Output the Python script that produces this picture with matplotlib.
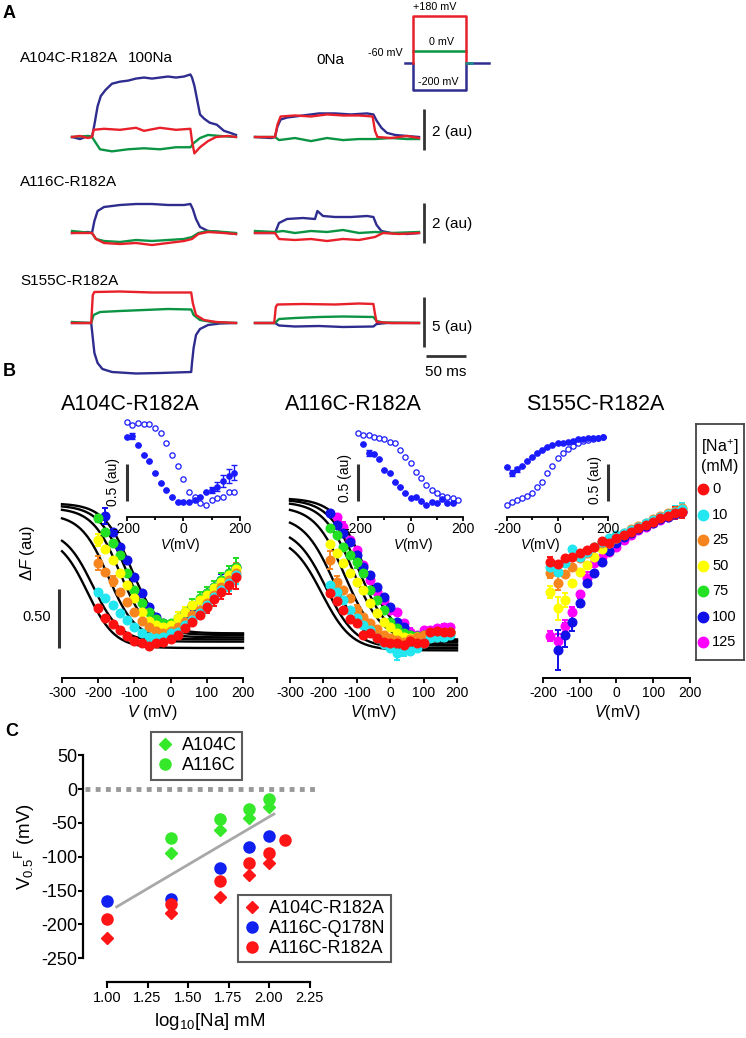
import numpy as np
import matplotlib
matplotlib.use("Agg")
import matplotlib.pyplot as plt
from matplotlib import font_manager
from matplotlib.lines import Line2D

installed = {f.name for f in font_manager.fontManager.ttflist}
SANS = "Liberation Sans"
HAS_NARROW = "Liberation Sans Narrow" in installed
NARROW = "Liberation Sans Narrow" if HAS_NARROW else SANS
NS = 1.0 if HAS_NARROW else 0.88

plt.rcParams["font.family"] = [SANS, "DejaVu Sans"]
plt.rcParams["mathtext.fontset"] = "custom"
plt.rcParams["mathtext.rm"] = SANS
plt.rcParams["mathtext.it"] = SANS + ":italic"
plt.rcParams["mathtext.bf"] = SANS + ":bold"
plt.rcParams["axes.unicode_minus"] = False

W, H = 746, 1038

# ---------------- panel A : fluorescence traces (ms, au) ----------------
a104_100 = {
    "blue": [(0, 0), (10, -0.1), (20, 0.05), (25, 0), (28, 0.6), (32, 1.5), (36, 2.0), (42, 2.3),
             (50, 2.6), (60, 2.7), (70, 2.75), (80, 2.85), (90, 2.9), (100, 2.85), (110, 2.9),
             (120, 2.95), (130, 2.9), (140, 2.95), (148, 3.05), (150, 2.9), (153, 2.5), (156, 1.9),
             (160, 1.1), (165, 0.9), (172, 0.7), (181, 0.6), (190, 0.3), (198, 0.2), (205, 0.1)],
    "red": [(0, 0), (10, 0.05), (20, -0.05), (25, 0), (27, 0.35), (40, 0.4), (60, 0.35), (80, 0.45),
            (90, 0.3), (110, 0.45), (130, 0.35), (148, 0.4), (150, -0.2), (153, -0.8), (160, -0.5),
            (170, -0.2), (180, 0.0), (195, 0.05), (205, 0)],
    "green": [(0, 0), (20, 0.05), (25, 0), (30, -0.3), (35, -0.6), (50, -0.7), (70, -0.6), (90, -0.55),
              (110, -0.6), (130, -0.5), (148, -0.5), (152, -0.3), (160, -0.05), (170, 0.1),
              (185, 0.05), (205, 0)],
}
a104_0 = {
    "blue": [(0, 0), (20, -0.05), (25, 0), (28, 0.5), (32, 0.85), (40, 0.95), (60, 1.05), (80, 1.15),
             (100, 1.15), (120, 1.1), (140, 1.15), (148, 1.1), (152, 0.8), (158, 0.45), (165, 0.2),
             (175, 0.1), (190, 0.05), (205, 0)],
    "red": [(0, 0), (20, 0), (25, 0), (28, 0.6), (32, 1.0), (50, 1.05), (70, 1.0), (90, 1.1),
            (110, 1.05), (130, 1.05), (147, 1.0), (150, 0.3), (153, 0.0), (170, -0.05), (190, 0.05),
            (205, -0.05)],
    "green": [(0, 0), (25, 0), (30, -0.15), (50, -0.05), (70, -0.2), (90, -0.05), (110, -0.15),
              (130, -0.1), (150, -0.1), (170, -0.05), (190, -0.1), (205, -0.1)],
}
a116_100 = {
    "blue": [(0, 0), (20, 0.05), (25, 0), (28, 0.6), (32, 1.1), (40, 1.3), (60, 1.4), (80, 1.45),
             (100, 1.45), (120, 1.4), (140, 1.4), (148, 1.45), (151, 1.2), (155, 0.7), (160, 0.3),
             (170, 0.1), (185, 0.05), (205, -0.05)],
    "red": [(0, 0), (25, 0), (30, -0.3), (40, -0.5), (60, -0.55), (80, -0.5), (100, -0.6),
            (120, -0.5), (140, -0.4), (150, -0.3), (158, -0.05), (170, 0.05), (190, 0), (205, -0.05)],
    "green": [(0, 0.1), (25, 0), (30, -0.3), (40, -0.4), (60, -0.45), (80, -0.35), (100, -0.4),
              (120, -0.35), (140, -0.3), (150, -0.2), (158, 0.0), (170, 0.1), (190, 0.05), (205, 0)],
}
a116_0 = {
    "blue": [(0, 0), (25, 0), (30, 0.5), (40, 0.7), (60, 0.75), (75, 0.7), (78, 1.1), (85, 0.85),
             (100, 0.8), (120, 0.8), (140, 0.85), (148, 0.8), (152, 0.4), (158, 0.1), (170, 0),
             (190, -0.05), (205, 0)],
    "red": [(0, 0), (25, 0), (30, -0.3), (50, -0.35), (70, -0.3), (90, -0.4), (110, -0.3),
            (130, -0.35), (150, -0.2), (160, 0), (180, -0.05), (205, 0)],
    "green": [(0, 0.1), (25, 0.05), (35, 0.1), (50, 0.0), (70, 0.1), (90, 0.05), (110, 0.15),
              (130, 0.0), (150, 0.05), (170, 0.0), (205, 0.05)],
}
s155_100 = {
    "blue": [(0, 0), (24, 0), (26, -1.5), (28, -3.0), (32, -4.0), (38, -4.6), (50, -4.9), (80, -5.05),
             (110, -5.0), (149, -4.9), (150, -4.0), (152, -2.5), (155, -1.2), (160, -0.6),
             (170, -0.2), (185, -0.05), (205, 0)],
    "red": [(0, 0), (24, 0), (26, 2.8), (28, 3.1), (60, 3.15), (100, 3.05), (149, 3.05), (151, 2.0),
            (155, 0.8), (165, 0.3), (180, 0.1), (205, 0)],
    "green": [(0, 0.1), (24, 0), (27, 0.8), (35, 1.1), (60, 1.2), (90, 1.3), (120, 1.4), (149, 1.35),
              (152, 0.8), (160, 0.3), (175, 0.1), (205, 0)],
}
s155_0 = {
    "blue": [(0, 0), (25, 0), (30, -0.25), (50, -0.35), (80, -0.3), (110, -0.4), (148, -0.35),
             (152, -0.1), (165, 0), (205, 0)],
    "red": [(0, 0), (24, 0), (26, 1.6), (28, 1.85), (60, 1.9), (100, 1.85), (130, 1.95), (148, 1.9),
            (150, 0.9), (152, 0.1), (170, 0), (205, 0)],
    "green": [(0, 0), (25, 0), (30, 0.4), (50, 0.5), (80, 0.6), (110, 0.65), (148, 0.6), (152, 0.2),
              (160, 0.05), (205, 0)],
}
TRACE_COLORS = {"blue": "#2e2d8f", "red": "#e8202a", "green": "#0b9444"}

# voltage protocol (ms, mV)
prot_t = [-20, 0, 125, 180]
prot_hold, prot_low, prot_zero, prot_high = -60, -200, 0, 180

# ---------------- panel B : F-V data (mV, au) ----------------
V_LEFT = list(range(-200, 181, 20))
V_MID = list(range(-180, 181, 20))
V_RIGHT = list(range(-200, 181, 20))
NA_LEVELS = [0, 10, 25, 50, 75, 100, 125]
NA_COLORS = {0: "#ff1010", 10: "#22e6f0", 25: "#f7851e", 50: "#ffff00", 75: "#22e022",
             100: "#1010e8", 125: "#ff00ff"}
nan = np.nan

a104_fv = {
    0: [0.336, 0.257, 0.203, 0.153, 0.102, 0.062, 0.040, 0.020, 0.040, 0.048, 0.073, 0.110, 0.166,
        0.223, 0.280, 0.345, 0.412, 0.477, 0.534, 0.604],
    10: [0.472, 0.421, 0.364, 0.299, 0.237, 0.175, 0.124, 0.090, 0.082, 0.096, 0.130, 0.138, 0.195,
         0.237, 0.294, 0.364, 0.429, 0.491, 0.554, 0.619],
    25: [0.723, 0.647, 0.568, 0.477, 0.393, 0.308, 0.232, 0.175, 0.147, 0.130, 0.147, 0.175, 0.223,
         0.280, 0.322, 0.379, 0.449, 0.520, 0.576, 0.638],
    50: [0.915, 0.836, 0.746, 0.638, 0.534, 0.421, 0.308, 0.232, 0.195, 0.181, 0.195, 0.251, 0.308,
         0.364, 0.407, 0.449, 0.506, 0.562, 0.619, 0.666],
    75: [1.099, 0.986, 0.887, 0.788, 0.633, 0.491, 0.379, 0.308, 0.243, 0.209, 0.215, 0.251, 0.308,
         0.364, 0.421, 0.463, 0.520, 0.576, 0.638, 0.689],
    100: [nan, 1.119, 0.986, 0.859, 0.746, 0.604, 0.463, 0.350, 0.265, 0.209, 0.195, 0.237, 0.294,
          0.350, 0.407, 0.463, 0.520, 0.576, 0.633, 0.689],
}
a104_err = {
    0: {100: 0.05, 120: 0.06, 140: 0.06, 160: 0.08, 180: 0.1},
    10: {-200: 0.03, 160: 0.07, 180: 0.08},
    25: {-200: 0.06, -160: 0.04, 160: 0.07, 180: 0.08},
    50: {-200: 0.05, 20: 0.05, 40: 0.04},
    75: {-200: 0.03, 60: 0.05, 80: 0.05, 100: 0.05, 120: 0.05, 140: 0.06, 160: 0.06, 180: 0.07},
    100: {-180: 0.07, 140: 0.05, 160: 0.06, 180: 0.07},
}
a104_fit_v05 = [-230, -215, -172, -140, -123, -109]
a104_fit_top = [0.95, 1.0, 1.134, 1.187, 1.21, 1.226]
a104_fit_bot = [0.0, 0.054, 0.073, 0.09, 0.11, 0.124]
a104_fit_k = 38

a116_fv = {
    0: [0.469, 0.401, 0.322, 0.243, 0.209, 0.110, 0.124, 0.082, 0.054, 0.045, 0.040, 0.025, 0.062,
        0.045, 0.040, 0.138, 0.147, 0.138, 0.138],
    10: [0.534, 0.477, 0.407, 0.322, 0.251, 0.195, 0.153, 0.082, 0.034, -0.003, -0.045, -0.017,
         -0.023, -0.003, 0.040, 0.082, 0.096, 0.096, 0.110],
    25: [0.746, 0.562, 0.491, 0.421, 0.322, 0.265, 0.209, 0.158, 0.110, 0.082, 0.068, 0.054, 0.073,
         0.096, 0.110, 0.124, 0.130, 0.130, 0.138],
    50: [0.881, 0.802, 0.717, 0.633, 0.562, 0.491, 0.379, 0.299, 0.223, 0.181, 0.130, 0.096, 0.082,
         0.096, 0.102, 0.110, 0.119, 0.124, 0.130],
    75: [1.014, 0.958, 0.859, 0.788, 0.732, 0.633, 0.491, 0.407, 0.322, 0.223, 0.166, 0.124, 0.110,
         0.102, 0.110, 0.119, 0.124, 0.130, 0.136],
    100: [1.141, 1.042, 0.972, 0.901, 0.788, 0.689, 0.619, 0.520, 0.435, 0.350, 0.223, 0.181, 0.110,
          0.102, 0.110, 0.124, 0.130, 0.130, 0.136],
    125: [nan, 1.113, 1.028, 0.915, 0.830, 0.703, 0.576, 0.477, 0.407, 0.322, 0.308, 0.209, 0.138,
          0.110, 0.153, 0.153, 0.166, 0.175, 0.181],
}
a116_err = {
    0: {100: 0.03},
    10: {20: 0.06, 40: 0.05, 160: 0.04},
    25: {-180: 0.08, -160: 0.05, -100: 0.04},
    75: {-100: 0.05},
    125: {-140: 0.04, 60: 0.03, 160: 0.03},
}
a116_fit_v05 = [-205, -192, -170, -136, -110, -94, -75]
a116_fit_top = [0.95, 1.02, 1.12, 1.2, 1.24, 1.26, 1.27]
a116_fit_bot = [-0.02, 0.0, 0.02, 0.03, 0.05, 0.06, 0.07]
a116_fit_k = 45

s155_fv = {
    0: [nan, 0.732, 0.712, 0.760, 0.774, 0.808, 0.830, 0.859, 0.910, 0.893, 0.929, 0.958, 0.986,
        1.014, 1.042, 1.071, 1.099, 1.119, 1.141, 1.155],
    10: [nan, 0.689, 0.647, 0.717, 0.836, 0.774, 0.816, 0.859, 0.901, 0.929, 0.958, 0.977, 1.000,
         1.028, 1.056, 1.085, 1.113, 1.136, 1.155, 1.175],
    25: [nan, 0.633, 0.548, 0.627, 0.689, 0.760, 0.808, 0.853, 0.893, 0.924, 0.952, 0.977, 1.006,
         1.034, 1.062, 1.090, 1.119, 1.141, 1.164, 1.184],
    50: [nan, 0.477, 0.336, 0.407, 0.548, 0.647, 0.703, 0.774, 0.836, 0.887, 0.929, 0.966, 0.994,
         1.023, 1.051, 1.079, 1.107, 1.133, 1.155, 1.178],
    100: [nan, nan, -0.017, 0.110, 0.223, 0.384, 0.554, 0.633, 0.732, 0.825, 0.887, 0.943, 0.977,
          1.006, 1.034, 1.062, 1.090, 1.113, 1.136, 1.155],
    125: [nan, 0.102, 0.062, 0.186, 0.308, 0.458, 0.590, 0.717, 0.774, 0.816, 0.859, 0.915, 0.958,
          1.000, 1.028, 1.056, 1.085, 1.113, 1.141, 1.164],
}
s155_err = {
    0: {-180: 0.04, 100: 0.04, 120: 0.04, 140: 0.04, 160: 0.05, 180: 0.05},
    10: {160: 0.05, 180: 0.05},
    25: {-180: 0.04, -160: 0.06},
    50: {-180: 0.05, -160: 0.1, -140: 0.06},
    100: {-160: 0.17, -140: 0.1, -120: 0.08, -100: 0.04, -80: 0.03},
    125: {-180: 0.04, -160: 0.06, -140: 0.05, -120: 0.04, -80: 0.05},
}

# insets: filled = 100 mM Na, open = 0 Na (au)
V_INSET = list(range(-200, 181, 20))
a104_in_filled = [0.914, 0.932, 0.806, 0.676, 0.595, 0.437, 0.293, 0.203, 0.104, 0.036, 0.036,
                  0.036, 0.068, 0.113, 0.176, 0.203, 0.248, 0.329, 0.392, 0.437]
a104_in_open = [1.117, 1.081, 1.104, 1.095, 1.095, 1.036, 0.968, 0.842, 0.676, 0.527, 0.347, 0.180,
                0.104, 0.032, 0.0, 0.068, 0.090, 0.113, 0.180, 0.180]
a104_in_err = {-180: 0.04, 100: 0.04, 120: 0.06, 140: 0.08, 160: 0.1, 180: 0.1}
a116_in_filled = [nan, 0.82, 0.706, 0.689, 0.617, 0.473, 0.437, 0.315, 0.239, 0.158, 0.09, 0.104,
                  0.059, 0.0, 0.045, 0.032, 0.077, 0.032, 0.032, nan]
a116_in_open = [0.977, 0.946, 0.946, 0.923, 0.91, 0.887, 0.847, 0.833, 0.743, 0.653, 0.563, 0.45,
                0.36, 0.27, 0.203, 0.158, 0.122, 0.104, 0.09, 0.068]
a116_in_err = {-160: 0.04}
s155_in_filled = [0.518, 0.428, 0.482, 0.527, 0.59, 0.653, 0.698, 0.743, 0.779, 0.811, 0.833,
                  0.842, 0.856, 0.869, 0.887, 0.89, 0.9, 0.905, 0.91, 0.914]
s155_in_open = [0.0, 0.045, 0.068, 0.09, 0.122, 0.167, 0.239, 0.315, 0.428, 0.527, 0.631, 0.698,
                0.752, 0.797, 0.842, 0.869, 0.878, 0.887, 0.901, 0.914]
s155_in_err = {-180: 0.04, -160: 0.03}

# ---------------- panel C : V0.5 vs log10[Na] ----------------
log_na = [1.0, 1.398, 1.699, 1.875, 2.0, 2.097]
v05_a104c = [nan, -94, -61, -43, -26, nan]
v05_a116c = [nan, -73, -45, -29, -15, nan]
v05_a104c_r182a = [-220, -183, -159, -127, -109, nan]
v05_a116c_q178n = [-165, -162, -116, -86, -70, nan]
v05_a116c_r182a = [-192, -170, -136, -110, -94, -75]
reg_x = [1.06, 2.03]
reg_y = [-174, -37]
C_GREEN, C_BLUE, C_RED = "#35e82a", "#1020f0", "#ff1515"

fig = plt.figure(figsize=(W / 100, H / 100), dpi=100)


def px_axes(box, xmap, ymap):
    """axes on a pixel box (x0, y0, x1, y1, y downwards); xmap/ymap = (pixel at 0, pixels per unit)"""
    x0, y0, x1, y1 = box
    ax = fig.add_axes([x0 / W, 1 - y1 / H, (x1 - x0) / W, (y1 - y0) / H])
    ax.set_xlim((x0 - xmap[0]) / xmap[1], (x1 - xmap[0]) / xmap[1])
    ax.set_ylim((ymap[0] - y1) / ymap[1], (ymap[0] - y0) / ymap[1])
    ax.patch.set_visible(False)
    return ax


def ftext(x, y, s, **kw):
    kw.setdefault("ha", "center")
    kw.setdefault("va", "center")
    return fig.text(x / W, 1 - y / H, s, **kw)


# ---- panel A ----
ftext(3, 13, "A", ha="left", fontsize=13, fontweight="bold")
LAB = 12.5 * NS
ftext(20, 58, "A104C-R182A", ha="left", fontsize=LAB, family=NARROW)
ftext(150, 58, "100Na", fontsize=LAB, family=NARROW)
ftext(330, 60, "0Na", fontsize=LAB, family=NARROW)
ftext(20, 182, "A116C-R182A", ha="left", fontsize=LAB, family=NARROW)
ftext(20, 281, "S155C-R182A", ha="left", fontsize=LAB, family=NARROW)

rows = [(a104_100, a104_0, 137, 20.5, (60, 175)),
        (a116_100, a116_0, 233, 20.0, (180, 270)),
        (s155_100, s155_0, 323, 10.0, (268, 392))]
trace_axes = []
for tr100, tr0, base, scale, (ya, yb) in rows:
    pair = []
    for tr, x0, x1 in ((tr100, 72, 250), (tr0, 255, 480)):
        ax = px_axes((x0 - 6, ya, x1, yb), (x0, 0.8), (base, scale))
        ax.set_axis_off()
        for name in ("blue", "green", "red"):
            t, v = zip(*tr[name])
            ax.plot(t, v, color=TRACE_COLORS[name], lw=1.7, solid_joinstyle="round")
        pair.append(ax)
    trace_axes.append(pair)

bar_kw = dict(color="#333333", lw=2, solid_capstyle="butt")
for (ax100, ax0), (lo, hi), lab, ytxt in zip(trace_axes, [(-0.63, 1.37), (-0.5, 1.5), (-2.4, 2.6)],
                                            ["2 (au)", "2 (au)", "5 (au)"], [0.24, 0.45, -0.4]):
    ax0.plot([211.25, 211.25], [lo, hi], **bar_kw)
    ax0.text(221, ytxt, lab, ha="left", va="center", fontsize=LAB, family=NARROW)
ax0 = trace_axes[2][1]
ax0.plot([213.75, 263.75], [-3.3, -3.3], **bar_kw)
ax0.text(238.75, -4.9, "50 ms", ha="center", va="center", fontsize=LAB, family=NARROW)

# protocol
axp = px_axes((396, 0, 495, 100), (413, 0.42), (51, 0.195))
axp.set_axis_off()
axp.plot([prot_t[0], prot_t[1], prot_t[1], prot_t[2], prot_t[2], prot_t[3]],
         [prot_hold, prot_hold, prot_low, prot_low, prot_hold, prot_hold],
         color=TRACE_COLORS["blue"], lw=1.8)
axp.plot([prot_t[1], prot_t[2]], [prot_zero, prot_zero], color=TRACE_COLORS["green"], lw=1.8)
axp.plot([prot_t[1], prot_t[1], prot_t[2], prot_t[2]], [prot_hold, prot_high, prot_high, prot_hold],
         color=TRACE_COLORS["red"], lw=1.8)
axp.plot([prot_t[2], prot_t[2] + 15], [prot_hold, prot_hold], color="#1a8c8c", lw=1.8)
pf = dict(fontsize=8.8 * NS, family=NARROW, va="center")
axp.text(52, 226, "+180 mV", ha="center", **pf)
axp.text(67, 46, "0 mV", ha="center", **pf)
axp.text(-24, -10, "-60 mV", ha="right", **pf)
axp.text(12, -157, "-200 mV", ha="left", **pf)

# ---- panel B ----
ftext(3, 372, "B", ha="left", fontsize=13, fontweight="bold")


def boltz(v, v05, k, top, bottom):
    return bottom + (top - bottom) / (1 + np.exp((v - v05) / k))


def draw_fv(ax, volts, data, errs, order, ms=6.2):
    for na in order:
        if na not in data:
            continue
        e = np.zeros(len(volts))
        for vv, s in errs.get(na, {}).items():
            e[volts.index(vv)] = s
        c = NA_COLORS[na]
        ax.errorbar(volts, data[na], yerr=e, fmt="o", color=c, mec=c, ms=ms, capsize=2.2,
                    elinewidth=1.4, capthick=1.4, zorder=3)


def bottom_axis(ax, ypos, lo, hi, major, minor=None, fs=10, length=3.6, pad=2):
    for s in ("top", "right", "left"):
        ax.spines[s].set_visible(False)
    ax.spines["bottom"].set_position(("data", ypos))
    ax.spines["bottom"].set_bounds(lo, hi)
    ax.spines["bottom"].set_linewidth(1.4)
    ax.set_yticks([])
    ax.set_xticks(major)
    ax.set_xticklabels([str(m) for m in major])
    if minor is not None:
        ax.set_xticks(minor, minor=True)
    ax.tick_params(axis="x", which="both", direction="out", length=length, width=1.3,
                   labelsize=fs, pad=pad)
    ax.tick_params(axis="x", which="minor", length=length * 0.8)


V_FIT = np.linspace(-300, 200, 300)
order_all = [125, 100, 75, 50, 25, 10, 0]

# left main
axL = px_axes((40, 420, 255, 700), (62 + 0.362 * 300, 0.362), (648, 118))
bottom_axis(axL, -0.254, -300, 200, list(range(-300, 201, 100)), length=3.8)
for v05, top, bot in zip(a104_fit_v05, a104_fit_top, a104_fit_bot):
    axL.plot(V_FIT, boltz(V_FIT, v05, a104_fit_k, top, bot), color="black", lw=1.7, zorder=2)
draw_fv(axL, V_LEFT, a104_fv, a104_err, order_all)
axL.plot([-308, -308], [0, 0.5], color="#333333", lw=2.2, solid_capstyle="butt", clip_on=False)
ftext(37, 617, "0.50", fontsize=10.5)
ftext(28, 553, r"$\Delta\it{F}$ (au)", fontsize=12, rotation=90)
ftext(152, 713, r"$\it{V}$ (mV)", fontsize=11.5)
ftext(130, 405, "A104C-R182A", fontsize=15.5)

# middle main
axM = px_axes((270, 420, 475, 700), (290 + 0.334 * 300, 0.334), (648, 118))
bottom_axis(axM, -0.254, -300, 200, list(range(-300, 201, 100)), length=3.8)
for v05, top, bot in zip(a116_fit_v05, a116_fit_top, a116_fit_bot):
    axM.plot(V_FIT, boltz(V_FIT, v05, a116_fit_k, top, bot), color="black", lw=1.7, zorder=2)
draw_fv(axM, V_MID, a116_fv, a116_err, order_all)
ftext(373, 713, r"$\it{V}$(mV)", fontsize=11.5)
ftext(353, 405, "A116C-R182A", fontsize=15.5)

# right main
axR = px_axes((520, 420, 700, 700), (543 + 0.367 * 200, 0.367), (648, 118))
bottom_axis(axR, -0.254, -200, 200, list(range(-200, 201, 100)), length=3.8)
draw_fv(axR, V_RIGHT, s155_fv, s155_err, order_all)
ftext(617, 713, r"$\it{V}$(mV)", fontsize=11.5)
ftext(595, 405, "S155C-R182A", fontsize=15.5)

# insets
INSET_BLUE = "#1a1aff"
insets = [
    ((95, 410, 255, 550), (126.7 + 0.283 * 200, 0.283), a104_in_filled, a104_in_open, a104_in_err,
     -200, (113, 482), (180, 545)),
    ((330, 410, 482, 550), (358 + 0.2625 * 200, 0.2625), a116_in_filled, a116_in_open, a116_in_err,
     -200, (345, 478), (413, 545)),
    ((485, 410, 630, 550), (507 + 0.2525 * 200, 0.2525), s155_in_filled, s155_in_open, s155_in_err,
     200, (595, 480), (540, 545)),
]
for box, xmap, filled, opened, ierr, bar_v, lab_pos, xl_pos in insets:
    ax = px_axes(box, xmap, (505, 74))
    bottom_axis(ax, -0.162, -200, 200, [-200, 0, 200], minor=[-100, 100], fs=10,
                length=3.0, pad=0.8)
    ax.spines["bottom"].set_linewidth(1.3)
    ax.plot(V_INSET, opened, "o", ms=3.8, mfc="white", mec=INSET_BLUE, mew=0.9, zorder=3)
    e = np.zeros(len(V_INSET))
    for vv, s in ierr.items():
        e[V_INSET.index(vv)] = s
    ax.errorbar(V_INSET, filled, yerr=e, fmt="o", ms=3.8, color=INSET_BLUE, mec=INSET_BLUE,
                elinewidth=1.0, capsize=2, capthick=1.0, zorder=4)
    ax.plot([bar_v, bar_v], [0.054, 0.554], color="#333333", lw=2.2, solid_capstyle="butt")
    ftext(lab_pos[0], lab_pos[1], "0.5 (au)", fontsize=10, rotation=90)
    ftext(xl_pos[0], xl_pos[1], r"$\it{V}$(mV)", fontsize=10)

# legend of [Na+]
axLeg = fig.add_axes([696 / W, 1 - 660 / H, 48 / W, 236 / H])
axLeg.set_xlim(696, 744)
axLeg.set_ylim(660, 424)
axLeg.set_xticks([])
axLeg.set_yticks([])
for s in axLeg.spines.values():
    s.set_linewidth(1.3)
    s.set_color("#444444")
axLeg.text(720, 447, r"[Na$^{+}$]", ha="center", va="center", fontsize=11.5)
axLeg.text(720, 466, "(mM)", ha="center", va="center", fontsize=11.5)
for i, na in enumerate(NA_LEVELS):
    yy = 489 + i * 25.5
    axLeg.plot([703], [yy], "o", ms=7.5, color=NA_COLORS[na])
    axLeg.text(712, yy, str(na), ha="left", va="center", fontsize=12 * NS, family=NARROW)

# ---- panel C ----
ftext(5, 732, "C", ha="left", fontsize=13, fontweight="bold")
axC = px_axes((60, 740, 345, 992), (107 - 162, 162), (789, 0.677))
for s in ("top", "right"):
    axC.spines[s].set_visible(False)
axC.spines["left"].set_position(("data", 0.852))
axC.spines["left"].set_bounds(-250, 50)
axC.spines["bottom"].set_position(("data", -285))
axC.spines["bottom"].set_bounds(1.0, 2.25)
for s in ("left", "bottom"):
    axC.spines[s].set_linewidth(1.6)
axC.set_yticks(list(range(-250, 51, 50)))
xt = [1.0, 1.25, 1.5, 1.75, 2.0, 2.25]
axC.set_xticks(xt)
axC.set_xticklabels([f"{x:.2f}" for x in xt], family=NARROW, fontsize=12 * NS)
axC.tick_params(axis="y", direction="out", length=3.5, width=1.5, labelsize=13, pad=0.8)
axC.tick_params(axis="x", direction="out", length=4, width=1.5, pad=2.5)

axC.plot([0.864, 2.30], [0, 0], color="#999999", lw=3.5, linestyle=(0, (1, 1.1)), zorder=1)
axC.plot(reg_x, reg_y, color="#a8a8a8", lw=2, zorder=1)
mk = dict(linestyle="none", zorder=3)
axC.plot(log_na, v05_a104c, "D", ms=6.5, color=C_GREEN, **mk)
axC.plot(log_na, v05_a116c, "o", ms=8, color=C_GREEN, **mk)
axC.plot(log_na, v05_a116c_q178n, "o", ms=8, color=C_BLUE, **mk)
axC.plot(log_na, v05_a116c_r182a, "o", ms=8, color=C_RED, **mk)
axC.plot(log_na, v05_a104c_r182a, "D", ms=6.5, color=C_RED, **mk)

leg_kw = dict(loc="upper left", bbox_transform=fig.transFigure, frameon=True, fancybox=False,
              edgecolor="#333333", fontsize=13, handletextpad=0.4, borderpad=0.3,
              labelspacing=0.15, handlelength=1.0, borderaxespad=0)
h1 = [Line2D([], [], marker="D", ms=6.5, color=C_GREEN, ls="none"),
      Line2D([], [], marker="o", ms=8, color=C_GREEN, ls="none")]
leg1 = axC.legend(h1, ["A104C", "A116C"], bbox_to_anchor=(151 / W, 1 - 732 / H), **leg_kw)
leg1.get_frame().set_linewidth(1.5)
axC.add_artist(leg1)
h2 = [Line2D([], [], marker="D", ms=6.5, color=C_RED, ls="none"),
      Line2D([], [], marker="o", ms=8, color=C_BLUE, ls="none"),
      Line2D([], [], marker="o", ms=8, color=C_RED, ls="none")]
leg2 = axC.legend(h2, ["A104C-R182A", "A116C-Q178N", "A116C-R182A"],
                  bbox_to_anchor=(238 / W, 1 - 895 / H), **leg_kw)
leg2.get_frame().set_linewidth(1.5)

ftext(25, 847, r"$\mathrm{V_{0.5}{}^{F}}$ (mV)", fontsize=13.5, rotation=90)
ftext(210, 1022, r"log$_{10}$[Na] mM", fontsize=13.5)

fig.savefig("out.png", dpi=100)
